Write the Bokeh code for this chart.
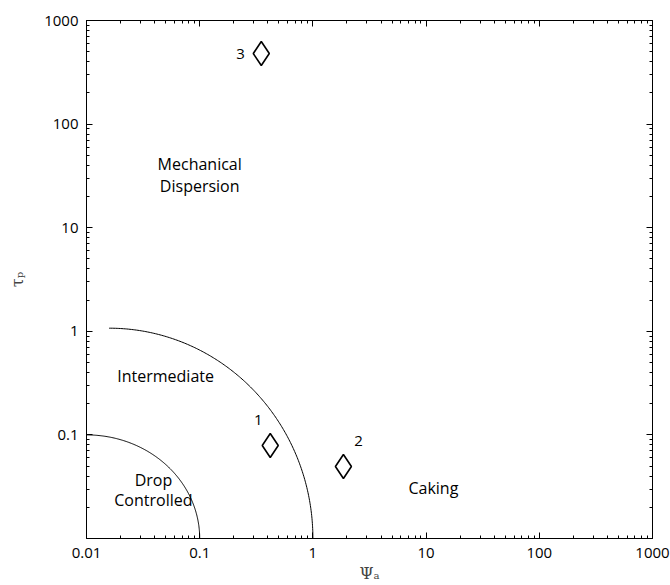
import numpy as np
from bokeh.plotting import figure
from bokeh.models import LogAxis, FixedTicker, CustomJSTickFormatter, ColumnDataSource
from bokeh.core.properties import value
from bokeh.embed import file_html
from bokeh.resources import INLINE

# ---- data ----
x_ticks = [0.01, 0.1, 1, 10, 100, 1000]
x_labels = ["0.01", "0.1", "1", "10", "100", "1000"]
y_ticks = [0.1, 1, 10, 100, 1000]
y_labels = ["0.1", "1", "10", "100", "1000"]

point_ids = ["1", "2", "3"]
point_psi = [0.42, 1.86, 0.35]
point_tau = [0.079, 0.0495, 480]
id_label_psi = [0.33, 2.53, 0.23]
id_label_tau = [0.138, 0.088, 480]

region_names = ["Mechanical", "Dispersion", "Intermediate", "Drop", "Controlled", "Caking"]
region_psi = [0.1, 0.1, 0.05, 0.039, 0.039, 11.6]
region_tau = [41, 25.5, 0.37, 0.037, 0.0235, 0.031]

# region boundaries: quarter ellipses in log-log space (center log10 psi, center log10 tau, radius psi decades, radius tau decades)
outer_boundary = (-1.8, -2.0, 1.8, 2.03)
inner_boundary = (-2.0, -2.0, 1.0, 1.0)

FONT = "Open Sans"

p = figure(width=670, height=585, x_axis_type="log", y_axis_type="log",
           x_range=(0.01, 1000), y_range=(0.01, 1000),
           output_backend="svg", toolbar_location=None,
           min_border_left=86, min_border_right=18, min_border_top=20, min_border_bottom=47)
p.grid.visible = False
p.outline_line_color = "black"
p.outline_line_width = 1
p.background_fill_color = "white"
p.border_fill_color = "white"

minor_x = [m * 10.0 ** k for k in range(-2, 3) for m in range(2, 10)]
minor_y = minor_x

LOOKUP = """
const i = tvals.findIndex(t => Math.abs(Math.log10(t) - Math.log10(tick)) < 1e-6);
return i >= 0 ? tlabels[i] : '';
"""
fmt_x = CustomJSTickFormatter(args=dict(tvals=x_ticks, tlabels=x_labels), code=LOOKUP)
fmt_y = CustomJSTickFormatter(args=dict(tvals=y_ticks, tlabels=y_labels), code=LOOKUP)
blank = CustomJSTickFormatter(code="return '';")

def style(ax, labels=True):
    ax.major_tick_in = 6
    ax.major_tick_out = 0
    ax.minor_tick_in = 3
    ax.minor_tick_out = 0
    ax.axis_line_color = "black"
    ax.major_tick_line_color = "black"
    ax.minor_tick_line_color = "black"
    ax.major_label_text_font = FONT
    ax.major_label_text_font_size = "15px"
    ax.major_label_text_color = "black"
    ax.axis_label_text_font_style = "normal"
    if not labels:
        ax.major_label_standoff = 0

xa = p.xaxis[0]
xa.ticker = FixedTicker(ticks=x_ticks, minor_ticks=minor_x)
xa.formatter = fmt_x
style(xa)
xa.major_label_standoff = 9
xa.axis_label = "Ψₐ"
xa.axis_label_text_font = "DejaVu Serif"
xa.axis_label_text_font_size = "16px"
xa.axis_label_standoff = 3

ya = p.yaxis[0]
ya.ticker = FixedTicker(ticks=y_ticks, minor_ticks=minor_y)
ya.formatter = fmt_y
style(ya)
ya.major_label_standoff = 8
ya.axis_label = "τₚ"
ya.axis_label_text_font = "DejaVu Serif"
ya.axis_label_text_font_size = "16px"
ya.axis_label_standoff = 14

top = LogAxis(ticker=FixedTicker(ticks=x_ticks, minor_ticks=minor_x), formatter=blank)
style(top, labels=False)
top.major_label_text_font_size = "0px"
p.add_layout(top, "above")
right = LogAxis(ticker=FixedTicker(ticks=[0.01] + y_ticks, minor_ticks=minor_y), formatter=blank)
style(right, labels=False)
right.major_label_text_font_size = "0px"
p.add_layout(right, "right")

# boundaries
for (cx, cy, rx, ry) in (outer_boundary, inner_boundary):
    t = np.linspace(0, np.pi / 2, 200)
    lx = cx + rx * np.cos(t)
    ly = cy + ry * np.sin(t)
    keep = lx >= -2.0
    p.line(10 ** lx[keep], 10 ** ly[keep], line_color="black", line_width=1)

src = ColumnDataSource(dict(x=point_psi, y=point_tau))
p.scatter("x", "y", source=src, marker="diamond", size=24, fill_color=None,
          line_color="black", line_width=1.6)

p.text(id_label_psi, id_label_tau, text=point_ids, text_font=value(FONT), text_font_size="15px",
       text_align="center", text_baseline="middle", text_color="black")
p.text(region_psi, region_tau, text=region_names, text_font=value(FONT), text_font_size="16px",
       text_align="center", text_baseline="middle", text_color="black")

open("out.html", "w").write(file_html(p, INLINE))
